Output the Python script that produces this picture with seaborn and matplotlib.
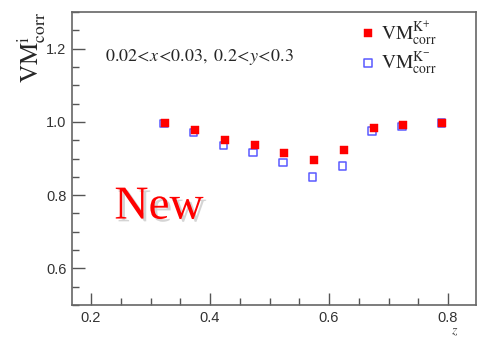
import matplotlib
matplotlib.use("Agg")
import matplotlib.pyplot as plt
import matplotlib.patheffects as pe
from matplotlib.ticker import MultipleLocator
import seaborn as sns
import pandas as pd

# data
z_pos = [0.325, 0.375, 0.425, 0.475, 0.525, 0.575, 0.625, 0.675, 0.725, 0.790]
vm_pos = [0.997, 0.979, 0.951, 0.938, 0.915, 0.896, 0.922, 0.983, 0.992, 0.997]
z_neg = [0.3225, 0.3725, 0.4225, 0.4725, 0.5225, 0.5725, 0.6225, 0.6725, 0.7225, 0.789]
vm_neg = [0.996, 0.971, 0.936, 0.916, 0.889, 0.849, 0.879, 0.975, 0.987, 0.997]
x_ticks = [0.2, 0.4, 0.6, 0.8]
y_ticks = [0.6, 0.8, 1.0, 1.2]

sns.set_style("white")
plt.rcParams["mathtext.fontset"] = "stix"
plt.rcParams["font.family"] = ["Liberation Sans", "DejaVu Sans"]

fig = plt.figure(figsize=(4.81, 3.39), dpi=100)
ax = fig.add_axes([72/481, 1-305/339, (476-72)/481, (305-12)/339])

df_pos = pd.DataFrame({"z": z_pos, "vm": vm_pos})
df_neg = pd.DataFrame({"z": z_neg, "vm": vm_neg})
sns.scatterplot(data=df_neg, x="z", y="vm", ax=ax, marker="s", s=30,
                facecolor="none", edgecolor="#5a5aff", linewidth=1.1, zorder=3)
sns.scatterplot(data=df_pos, x="z", y="vm", ax=ax, marker="s", s=32,
                color="#ff0000", edgecolor="#ff0000", linewidth=0.3, zorder=4)

ax.set_xlim(0.168, 0.847)
ax.set_ylim(0.5, 1.3)
ax.set_xticks(x_ticks)
ax.set_yticks(y_ticks)
ax.set_xticklabels([f"{t:.1f}" for t in x_ticks])
ax.set_yticklabels([f"{t:.1f}" for t in y_ticks])
ax.xaxis.set_minor_locator(MultipleLocator(0.05))
ax.yaxis.set_minor_locator(MultipleLocator(0.05))
ax.tick_params(axis="both", which="major", direction="in", length=9, width=1,
               color="#555555", labelsize=10.5, labelcolor="#333333",
               bottom=True, left=True, top=False, right=False)
ax.tick_params(axis="both", which="minor", direction="in", length=5, width=1,
               color="#555555", bottom=True, left=True, top=False, right=False)
ax.tick_params(axis="x", pad=4)
ax.tick_params(axis="y", pad=4)
for s in ax.spines.values():
    s.set_color("#666666")
    s.set_linewidth(1.2)
ax.set_xlabel("")
ax.set_ylabel("")

fig.text(31/481, 1-48/339, r"$\mathrm{VM}^{\mathrm{i}}_{\mathrm{corr}}$",
         rotation=90, fontsize=18, ha="center", va="center")
fig.text(455/481, 1-331/339, r"$z$", fontsize=10, color="#444444",
         ha="center", va="center")

ax.text(0.082, 0.845, r"$0.02\!<\!x\!<\!0.03,\ 0.2\!<\!y\!<\!0.3$",
        transform=ax.transAxes, fontsize=13, ha="left", va="center")

ax.text(0.105, 0.295, "New", transform=ax.transAxes, fontsize=34,
        family="Liberation Serif", color="#ff0000", ha="left", va="baseline",
        path_effects=[pe.SimplePatchShadow(offset=(2, -2), shadow_rgbFace="#aaaaaa", alpha=0.5),
                      pe.Normal()])

# legend
leg_x = 0.168 + (368 - 72) / 404 * (0.847 - 0.168)
ax.scatter([leg_x], [1.3 - (33 - 12) / 293 * 0.8], marker="s", s=30,
           color="#ff0000", edgecolor="#ff0000", linewidth=0.3, clip_on=False)
ax.scatter([leg_x], [1.3 - (63 - 12) / 293 * 0.8], marker="s", s=26,
           facecolor="none", edgecolor="#5a5aff", linewidth=1.1, clip_on=False)
fig.text(381/481, 1-33/339, r"$\mathrm{VM}^{\mathrm{K}^{+}}_{\mathrm{corr}}$",
         fontsize=14, ha="left", va="center")
fig.text(381/481, 1-63/339, r"$\mathrm{VM}^{\mathrm{K}^{-}}_{\mathrm{corr}}$",
         fontsize=14, ha="left", va="center")

fig.savefig("out.png", dpi=100)
